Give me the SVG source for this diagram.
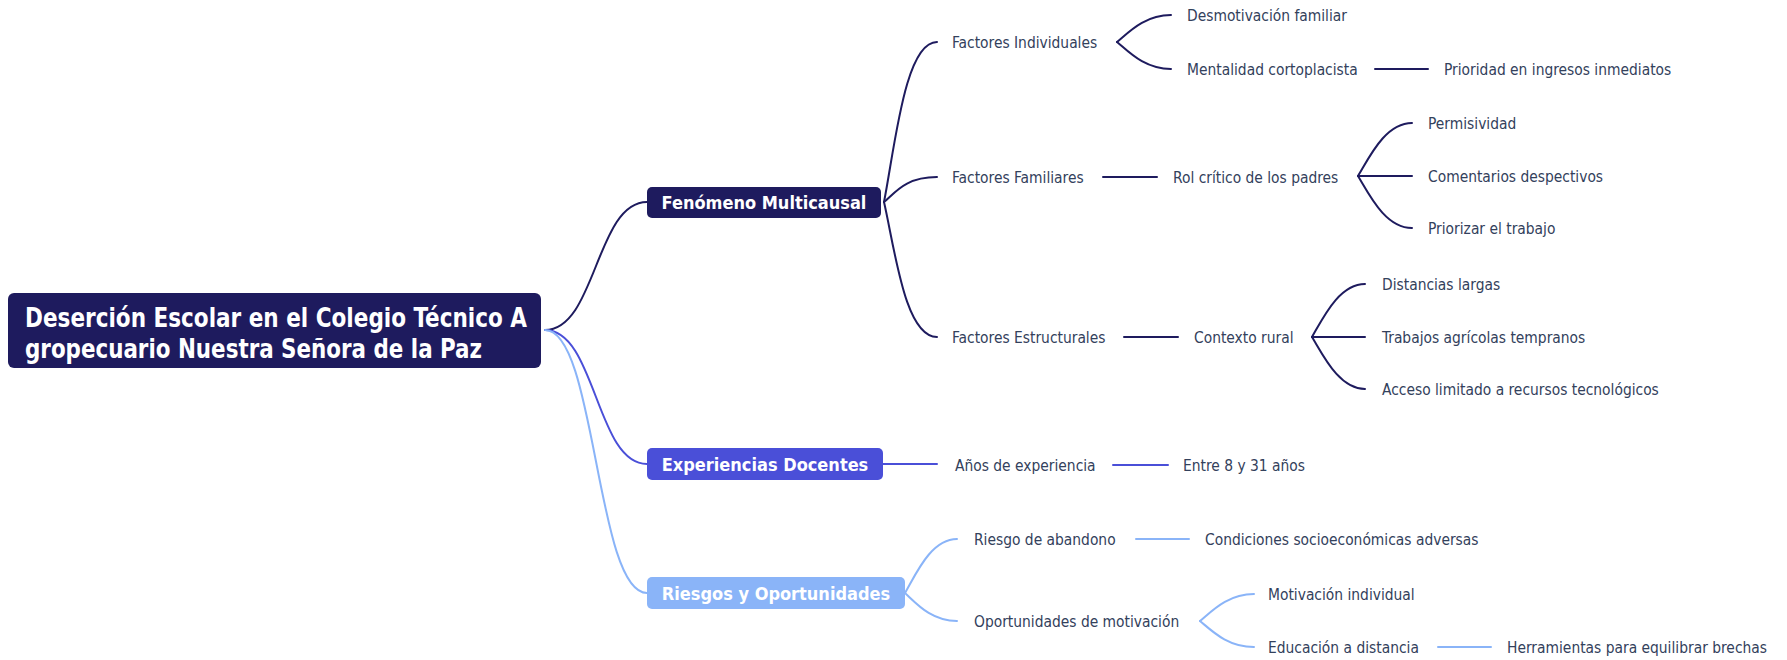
<svg xmlns="http://www.w3.org/2000/svg" width="1787" height="660" viewBox="0 0 1787 660">
<style>
.leaf{font-family:"DejaVu Sans Condensed","DejaVu Sans",sans-serif;font-stretch:condensed;font-size:15.4px;fill:#33415c}
.title{font-family:"DejaVu Sans Condensed","DejaVu Sans",sans-serif;font-stretch:condensed;font-weight:bold;font-size:18px;fill:#ffffff;text-anchor:middle}
.root{font-family:"DejaVu Sans Condensed","DejaVu Sans",sans-serif;font-stretch:condensed;font-weight:bold;font-size:26px;fill:#ffffff}
.c{fill:none;stroke-width:2;stroke-linecap:round}
.c1{stroke:#1e1b5e}
.c2{stroke:#4a4fd8}
.c3{stroke:#8ab4f8}
</style>
<g id="connectors">
<path class="c c1" d="M545,330 C596,330 596,202 647,202"/>
<path class="c c2" d="M545,330 C596,330 596,464 647,464"/>
<path class="c c3" d="M545,330 C596,330 596,593 647,593"/>
<path class="c c1" d="M884,202 C895,146 905,42 937,42"/>
<path class="c c1" d="M884,202 C895,193 905,177 937,177"/>
<path class="c c1" d="M884,202 C895,250 905,337 937,337"/>
<path class="c c1" d="M1117,42 C1128,33 1144,15 1171,15"/>
<path class="c c1" d="M1117,42 C1128,51 1144,69 1171,69"/>
<path class="c c1" d="M1375,69 L1428,69"/>
<path class="c c1" d="M1103,177 L1157,177"/>
<path class="c c1" d="M1358,176 C1369,158 1385,123 1412,123"/>
<path class="c c1" d="M1358,176 L1412,176"/>
<path class="c c1" d="M1358,176 C1369,194 1385,228 1412,228"/>
<path class="c c1" d="M1124,337 L1178,337"/>
<path class="c c1" d="M1312,337 C1323,318 1339,284 1365,284"/>
<path class="c c1" d="M1312,337 L1365,337"/>
<path class="c c1" d="M1312,337 C1323,355 1339,389 1365,389"/>
<path class="c c2" d="M883,464 L937,464"/>
<path class="c c2" d="M1113,465 L1168,465"/>
<path class="c c3" d="M905,593 C916,574 931,539 957,539"/>
<path class="c c3" d="M905,593 C916,603 931,621 957,621"/>
<path class="c c3" d="M1136,539 L1189,539"/>
<path class="c c3" d="M1200,621 C1211,612 1227,594 1254,594"/>
<path class="c c3" d="M1200,621 C1211,630 1227,647 1254,647"/>
<path class="c c3" d="M1438,647 L1491,647"/>
</g>
<g id="root">
<rect x="8" y="293" width="533" height="75" rx="6" fill="#1e1b5e"/>
<text class="root" x="25" y="327" textLength="502" lengthAdjust="spacingAndGlyphs">Deserción Escolar en el Colegio Técnico A</text>
<text class="root" x="25" y="358" textLength="457" lengthAdjust="spacingAndGlyphs">gropecuario Nuestra Señora de la Paz</text>
</g>
<g id="fenomeno">
<rect x="647" y="187" width="234" height="31" rx="5" fill="#1e1b5e"/>
<text class="title" x="764" y="208.5">Fenómeno Multicausal</text>
</g>
<g id="experiencias">
<rect x="647" y="448" width="236" height="32" rx="5" fill="#4a4fd8"/>
<text class="title" x="765" y="470.5">Experiencias Docentes</text>
</g>
<g id="riesgos">
<rect x="647" y="577" width="258" height="32" rx="5" fill="#8ab4f8"/>
<text class="title" x="776" y="599.5">Riesgos y Oportunidades</text>
</g>
<g id="factores-individuales"><text class="leaf" x="952" y="47.5">Factores Individuales</text></g>
<g id="desmotivacion"><text class="leaf" x="1187" y="20.5">Desmotivación familiar</text></g>
<g id="mentalidad"><text class="leaf" x="1187" y="74.5">Mentalidad cortoplacista</text></g>
<g id="prioridad"><text class="leaf" x="1444" y="74.5">Prioridad en ingresos inmediatos</text></g>
<g id="factores-familiares"><text class="leaf" x="952" y="182.5">Factores Familiares</text></g>
<g id="rol-critico"><text class="leaf" x="1173" y="182.5">Rol crítico de los padres</text></g>
<g id="permisividad"><text class="leaf" x="1428" y="128.5">Permisividad</text></g>
<g id="comentarios"><text class="leaf" x="1428" y="181.5">Comentarios despectivos</text></g>
<g id="priorizar"><text class="leaf" x="1428" y="233.5">Priorizar el trabajo</text></g>
<g id="factores-estructurales"><text class="leaf" x="952" y="342.5">Factores Estructurales</text></g>
<g id="contexto-rural"><text class="leaf" x="1194" y="342.5">Contexto rural</text></g>
<g id="distancias"><text class="leaf" x="1382" y="289.5">Distancias largas</text></g>
<g id="trabajos"><text class="leaf" x="1382" y="342.5">Trabajos agrícolas tempranos</text></g>
<g id="acceso"><text class="leaf" x="1382" y="394.5">Acceso limitado a recursos tecnológicos</text></g>
<g id="anos-experiencia"><text class="leaf" x="955" y="470.5">Años de experiencia</text></g>
<g id="entre"><text class="leaf" x="1183" y="470.5">Entre 8 y 31 años</text></g>
<g id="riesgo-abandono"><text class="leaf" x="974" y="544.5">Riesgo de abandono</text></g>
<g id="condiciones"><text class="leaf" x="1205" y="544.5">Condiciones socioeconómicas adversas</text></g>
<g id="oportunidades"><text class="leaf" x="974" y="626.5">Oportunidades de motivación</text></g>
<g id="motivacion-individual"><text class="leaf" x="1268" y="599.5">Motivación individual</text></g>
<g id="educacion"><text class="leaf" x="1268" y="652.5">Educación a distancia</text></g>
<g id="herramientas"><text class="leaf" x="1507" y="652.5">Herramientas para equilibrar brechas</text></g>
</svg>
